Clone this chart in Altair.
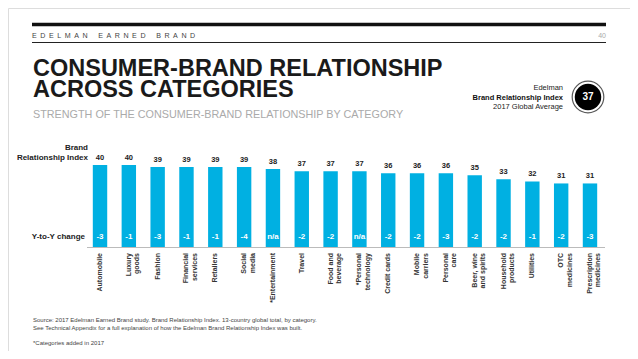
import altair as alt
import pandas as pd

categories = ["Automobile", "Luxury\ngoods", "Fashion", "Financial\nservices", "Retailers",
              "Social\nmedia", "*Entertainment", "Travel", "Food and\nbeverage",
              "*Personal\ntechnology", "Credit cards", "Mobile\ncarriers", "Personal\ncare",
              "Beer, wine\nand spirits", "Household\nproducts", "Utilities", "OTC\nmedicines",
              "Prescription\nmedicines"]
index_values = [40, 40, 39, 39, 39, 39, 38, 37, 37, 37, 36, 36, 36, 35, 33, 32, 31, 31]
yoy_change = ["-3", "-1", "-3", "-1", "-1", "-4", "n/a", "-2", "-2", "n/a", "-2", "-2", "-3",
              "-2", "-2", "-1", "-2", "-3"]

df = pd.DataFrame({"cat": categories, "value": index_values, "chg": yoy_change})

FONT = "Liberation Sans"
BAR = "#00B0E2"

x_enc = alt.X("cat:N", sort=categories, axis=None,
              scale=alt.Scale(range=[77.6, 596.4], paddingInner=0.5, paddingOuter=0.25))
y_scale = alt.Scale(domain=[0, 40], range=[239, 157], nice=False, zero=True)

base = alt.Chart(df)
bars = base.mark_bar(color=BAR).encode(x=x_enc, y=alt.Y("value:Q", scale=y_scale, axis=None))
vals = base.mark_text(font=FONT, fontSize=7.5, fontWeight="bold", color="#222",
                      baseline="bottom", dy=-3).encode(
    x=x_enc, y=alt.Y("value:Q", scale=y_scale, axis=None), text="value:Q")
chg = base.mark_text(font=FONT, fontSize=8, fontWeight="bold", color="white",
                     baseline="middle").encode(x=x_enc, y=alt.value(229), text="chg:N")
labels = base.mark_text(font=FONT, fontSize=7, fontWeight="bold", color="#333",
                        angle=270, align="right", baseline="middle", lineBreak="\n",
                        lineHeight=8.5).encode(x=x_enc, y=alt.value(245), text="cat:N")


def txt(t, x, y, size, color="#222", weight="normal", align="left", baseline="alphabetic",
        lh=None):
    kw = {}
    if lh is not None:
        kw = {"lineBreak": "\n", "lineHeight": lh}
    return alt.Chart(pd.DataFrame({"t": [t]})).mark_text(
        font=FONT, fontSize=size, color=color, fontWeight=weight, align=align,
        baseline=baseline, **kw).encode(x=alt.value(x), y=alt.value(y), text="t:N")


def rule(x1, x2, y, color, width):
    return alt.Chart(pd.DataFrame({"a": [0]})).mark_rule(color=color, strokeWidth=width).encode(
        x=alt.value(x1), x2=alt.value(x2), y=alt.value(y))


sp = "\u2002"
header = sp.join("EDELMAN") + sp * 3 + sp.join("EARNED") + sp * 3 + sp.join("BRAND")

layers = [
    rule(24, 598, 16.5, "#111", 3.5),
    rule(24, 598, 34.5, "#222", 1),
    txt(header, 24, 29.5, 7.1, "#444"),
    txt("40", 598, 29.5, 7, "#aaa", align="right"),
    txt("CONSUMER-BRAND RELATIONSHIP\nACROSS CATEGORIES", 25, 67.5, 23.5, "#1a1a1a", "bold",
        lh=21.5),
    txt("STRENGTH OF THE CONSUMER-BRAND RELATIONSHIP BY CATEGORY", 25, 110, 10.8, "#aaa"),
    txt("Edelman", 555, 82, 7.5, "#222", align="right"),
    txt("Brand Relationship Index", 555, 92, 7.5, "#111", "bold", align="right"),
    txt("2017 Global Average", 555, 101, 7.5, "#222", align="right"),
    alt.Chart(pd.DataFrame({"a": [0]})).mark_point(shape="circle", size=1000, filled=False,
                                                    color="#111", strokeWidth=1.2).encode(
        x=alt.value(580), y=alt.value(89)),
    alt.Chart(pd.DataFrame({"a": [0]})).mark_circle(size=700, color="#000", opacity=1).encode(
        x=alt.value(580), y=alt.value(89)),
    txt("37", 580, 89, 10, "white", "bold", align="center", baseline="middle"),
    txt("Brand", 80, 139.5, 8, "#222", "bold", align="right", baseline="middle"),
    txt("Relationship Index", 80, 150, 8, "#222", "bold", align="right", baseline="middle"),
    txt("Y-to-Y change", 77, 229, 8, "#222", "bold", align="right", baseline="middle"),
    rule(79, 597, 239.5, "#bbb", 1),
    bars, vals, chg, labels,
    txt("Source: 2017 Edelman Earned Brand study. Brand Relationship Index. 13-country global total, by category.",
        25, 314, 6, "#444"),
    txt("See Technical Appendix for a full explanation of how the Edelman Brand Relationship Index was built.",
        25, 322, 6, "#444"),
    txt("*Categories added in 2017", 25, 337, 6, "#444"),
]

chart = alt.layer(*layers).properties(
    width=622, height=343, padding=0, autosize=alt.AutoSizeParams(type="none")
).configure_view(stroke=None).configure(background="white")

chart.save("out.html", embed_options={"renderer": "svg", "actions": False})
